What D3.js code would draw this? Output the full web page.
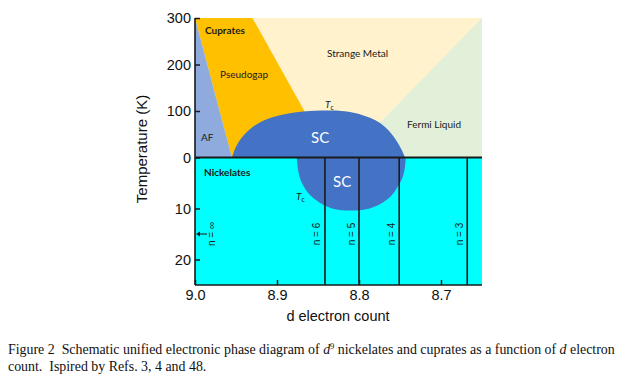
<!DOCTYPE html>
<html>
<head>
<meta charset="utf-8">
<script src="https://cdn.jsdelivr.net/npm/d3@7"></script>
<style>
  body { margin: 0; background: #fff; }
  svg { display: block; }
</style>
</head>
<body>
<div class="chart"></div>
<script>
// declare global values
const WIDTH = 640;
const HEIGHT = 376;

// x axis: d electron count, upper panel: temperature of cuprates, lower: nickelates
const xTicks = [9.0, 8.9, 8.8, 8.7];
const upTicks = [0, 100, 200, 300];
const lowTicks = [10, 20];

// phase boundaries [d, T]
const afLine = [[9.0, 300], [8.955, 0]];
const pgLine = [[8.93, 300], [8.867, 101]];
const flLine = [[8.65, 300], [8.774, 76]];

// superconducting domes [d, T]
const cuprateDome = [[8.955, 0], [8.947, 33], [8.928, 68], [8.9, 89], [8.868, 99],
  [8.835, 101], [8.808, 97], [8.78, 80], [8.761, 52], [8.749, 20], [8.744, 0]];
const nickelDome = [[8.876, 0], [8.873, 3.5], [8.865, 6.3], [8.852, 8.4], [8.833, 10],
  [8.81, 10.4], [8.787, 10], [8.767, 8.4], [8.755, 6.3], [8.746, 3.5], [8.743, 0]];

// layered nickelates n = ...
const nLabels = ["n = \u221e", "n = 6", "n = 5", "n = 4", "n = 3"];
const nValues = [9.0, 8.8415, 8.8, 8.751, 8.668];
const nLabelT = 15;

const COLORS = {
  af: "#8faadc",
  pg: "#ffc000",
  sm: "#fff2cc",
  fl: "#e2f0d9",
  sc: "#4472c4",
  ni: "#00ffff",
  ink: "#1a1a1a",
};

var svg = d3
  .select(".chart")
  .append("svg")
  .attr("width", WIDTH)
  .attr("height", HEIGHT)
  .style("background", "#fff");

// set the ranges
var x = d3.scaleLinear().domain([9.0, 8.65]).range([195, 482]);
var yUp = d3.scaleLinear().domain([0, 300]).range([157.5, 18]);
var yLow = d3.scaleLinear().domain([0, 25]).range([157.5, 285]);

const pUp = (pts) => pts.map((p) => x(p[0]) + "," + yUp(p[1])).join(" ");

// upper panel regions, painted back to front
svg.append("rect")
  .attr("x", x(9.0)).attr("y", yUp(300))
  .attr("width", x(8.65) - x(9.0)).attr("height", yUp(0) - yUp(300))
  .attr("fill", COLORS.fl);

// strange metal
svg.append("polygon")
  .attr("points", pUp([[9.0, 300], flLine[0], flLine[1], [8.8, 0], [9.0, 0]]))
  .attr("fill", COLORS.sm);

// pseudogap: extend the boundary a little into the dome
var slope = (pgLine[0][0] - pgLine[1][0]) / (pgLine[0][1] - pgLine[1][1]);
svg.append("polygon")
  .attr("points", pUp([[9.0, 300], pgLine[0], [pgLine[1][0] - slope * 41, 60], afLine[1]]))
  .attr("fill", COLORS.pg);

// antiferromagnet
svg.append("polygon")
  .attr("points", pUp([afLine[0], afLine[1], [9.0, 0]]))
  .attr("fill", COLORS.af);

// nickelates panel
svg.append("rect")
  .attr("x", x(9.0)).attr("y", yLow(0))
  .attr("width", x(8.65) - x(9.0)).attr("height", yLow(25) - yLow(0))
  .attr("fill", COLORS.ni);

// SC domes
svg.append("path")
  .attr("d", d3.line().x((d) => x(d[0])).y((d) => yLow(d[1])).curve(d3.curveNatural)(nickelDome) + "Z")
  .attr("fill", COLORS.sc);

svg.append("path")
  .attr("d", d3.line().x((d) => x(d[0])).y((d) => yUp(d[1])).curve(d3.curveNatural)(cuprateDome) + "Z")
  .attr("fill", COLORS.sc);

// n lines
svg.append("g")
  .selectAll("line")
  .data(nValues.slice(1))
  .join("line")
  .attr("x1", (d) => x(d)).attr("x2", (d) => x(d))
  .attr("y1", yLow(0)).attr("y2", yLow(25))
  .attr("stroke", COLORS.ink)
  .attr("stroke-width", 1.6);

// n labels, rotated
svg.append("g")
  .selectAll("text")
  .data(nLabels)
  .join("text")
  .attr("transform", (d, i) => {
    var px = i == 0 ? x(nValues[i]) + 16 : x(nValues[i]) - 8;
    return "translate(" + px + "," + yLow(nLabelT) + ") rotate(-90)";
  })
  .attr("text-anchor", "middle")
  .attr("dy", "0.35em")
  .style("font-family", "'Liberation Sans', Arial, sans-serif")
  .style("font-size", "10px")
  .attr("fill", COLORS.ink)
  .text((d) => d);

// arrow for n = infinity
svg.append("line")
  .attr("x1", x(9.0) + 12).attr("x2", x(9.0) + 3)
  .attr("y1", yLow(nLabelT)).attr("y2", yLow(nLabelT))
  .attr("stroke", COLORS.ink).attr("stroke-width", 1);
svg.append("path")
  .attr("d", "M" + (x(9.0) + 1) + "," + yLow(nLabelT) + "l4,-2.5v5z")
  .attr("fill", COLORS.ink);

// T = 0 divider
svg.append("line")
  .attr("x1", x(9.0)).attr("x2", x(8.65))
  .attr("y1", yUp(0)).attr("y2", yUp(0))
  .attr("stroke", COLORS.ink)
  .attr("stroke-width", 1.8);

// axes
const tickFont = (g) =>
  g.selectAll(".tick text")
    .style("font-family", "'Liberation Sans', Arial, sans-serif")
    .style("font-size", "14.5px")
    .attr("fill", "#111");

svg.append("g")
  .attr("transform", "translate(" + x(9.0) + ",0)")
  .call(d3.axisLeft(yUp).tickValues(upTicks).tickSizeInner(-5).tickSizeOuter(0).tickPadding(4))
  .call((g) => g.select(".domain").remove())
  .call((g) => g.selectAll(".tick line").attr("stroke", COLORS.ink).attr("stroke-width", 1.5))
  .call(tickFont);

svg.append("g")
  .attr("transform", "translate(" + x(9.0) + ",0)")
  .call(d3.axisLeft(yLow).tickValues(lowTicks).tickSizeInner(-5).tickSizeOuter(0).tickPadding(4))
  .call((g) => g.select(".domain").remove())
  .call((g) => g.selectAll(".tick line").attr("stroke", COLORS.ink).attr("stroke-width", 1.5))
  .call(tickFont);

svg.append("g")
  .attr("transform", "translate(0," + yLow(25) + ")")
  .call(d3.axisBottom(x).tickValues(xTicks).tickFormat(d3.format(".1f")).tickSizeInner(-5).tickSizeOuter(0).tickPadding(5))
  .call((g) => g.select(".domain").remove())
  .call((g) => g.selectAll(".tick line").attr("stroke", COLORS.ink).attr("stroke-width", 1.5))
  .call(tickFont);

svg.append("line")
  .attr("x1", x(9.0)).attr("x2", x(9.0))
  .attr("y1", yUp(300)).attr("y2", yLow(25))
  .attr("stroke", COLORS.ink).attr("stroke-width", 1.6);
svg.append("line")
  .attr("x1", x(9.0)).attr("x2", x(8.65))
  .attr("y1", yLow(25)).attr("y2", yLow(25))
  .attr("stroke", COLORS.ink).attr("stroke-width", 1.6);

// axis titles
svg.append("text")
  .attr("transform", "translate(147,149) rotate(-90)")
  .attr("text-anchor", "middle")
  .style("font-family", "'Liberation Sans', Arial, sans-serif")
  .style("font-size", "15px")
  .attr("fill", "#111")
  .text("Temperature (K)");

svg.append("text")
  .attr("x", 338).attr("y", 321)
  .attr("text-anchor", "middle")
  .style("font-family", "'Liberation Sans', Arial, sans-serif")
  .style("font-size", "14.5px")
  .attr("fill", "#111")
  .text("d electron count");

// region labels
const LABEL_FONT = "Lato, 'Open Sans', sans-serif";
function label(txt, px, py, opts) {
  opts = opts || {};
  var t = svg.append("text")
    .attr("x", px).attr("y", py)
    .attr("dy", "0.35em")
    .style("font-family", LABEL_FONT)
    .style("font-size", (opts.size || 10) + "px")
    .style("font-weight", opts.bold ? "bold" : "normal")
    .attr("fill", opts.color || "#1a1a1a");
  if (opts.tc) {
    t.append("tspan").style("font-style", "italic").text("T");
    t.append("tspan").attr("dy", 2).style("font-size", "7px").text("c");
  } else {
    t.text(txt);
  }
  return t;
}

label("Cuprates", 205, 30, { bold: true });
label("Pseudogap", 220, 74);
label("AF", 201, 137);
label("Strange Metal", 327, 53);
label("Fermi Liquid", 407, 124);
label("SC", 311, 138, { size: 15, color: "#fff" });
label("SC", 333, 182, { size: 15, color: "#fff" });
label("Nickelates", 204, 172, { bold: true });
label("", 325, 104, { tc: true });
label("", 296, 196, { tc: true });

// figure caption
var cap = svg.append("g")
  .style("font-family", "'Liberation Serif', 'Times New Roman', serif")
  .style("font-size", "13.9px")
  .attr("fill", "#111");

var line1 = cap.append("text").attr("x", 8).attr("y", 354);
line1.append("tspan").text("Figure 2\u00a0 Schematic unified electronic phase diagram of ");
line1.append("tspan").style("font-style", "italic").text("d");
line1.append("tspan").attr("dy", -5).style("font-size", "8.5px").text("9");
line1.append("tspan").attr("dy", 5).text(" nickelates and cuprates as a function of ");
line1.append("tspan").style("font-style", "italic").text("d");
line1.append("tspan").text(" electron");

cap.append("text").attr("x", 8).attr("y", 371)
  .text("count.\u00a0 Ispired by Refs. 3, 4 and 48.");
</script>
</body>
</html>
